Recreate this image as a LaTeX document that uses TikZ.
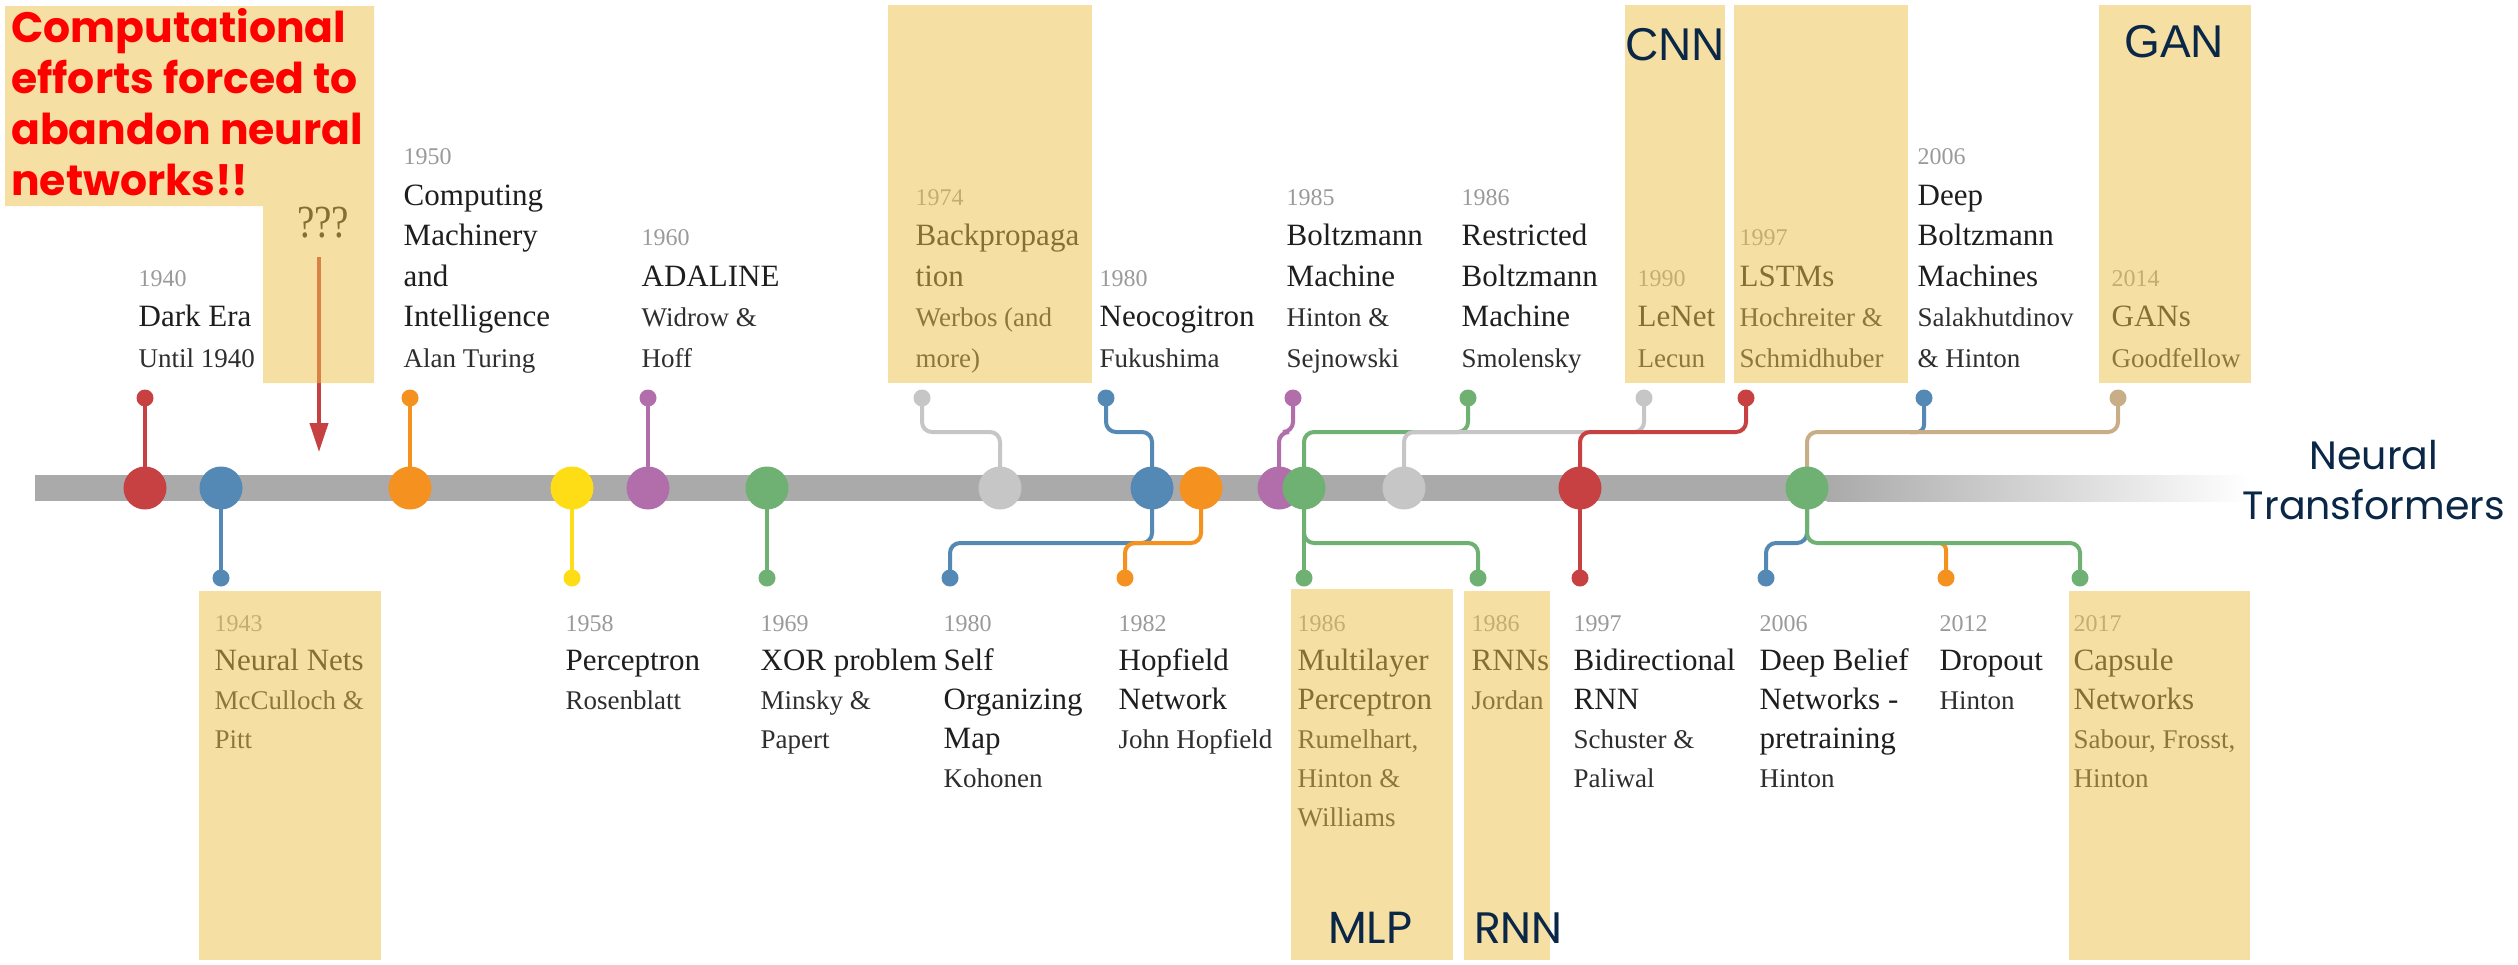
\documentclass[tikz,border=0pt]{standalone}
\usepackage{fontspec}
\usetikzlibrary{arrows.meta}
\setmainfont{Liberation Serif}
\newfontfamily\popfont{Poppins}
\newfontfamily\labelfont{Liberation Sans}

\definecolor{cRed}{HTML}{C74143}
\definecolor{cBlue}{HTML}{5589B5}
\definecolor{cOrange}{HTML}{F5921F}
\definecolor{cYellow}{HTML}{FEDC16}
\definecolor{cPurple}{HTML}{B26EAB}
\definecolor{cGreen}{HTML}{6FB173}
\definecolor{cGray}{HTML}{C6C6C6}
\definecolor{cTan}{HTML}{C8AE86}
\definecolor{barGray}{HTML}{AAAAAA}
\definecolor{hiFill}{RGB}{237,193,73}
\definecolor{navy}{HTML}{0B2747}
\definecolor{yearGray}{HTML}{9A9A9A}
\definecolor{titleInk}{HTML}{1E1E1E}
\definecolor{subInk}{HTML}{2E2E2E}
\definecolor{alarm}{HTML}{FF0000}

% text styles of an event entry (year / title / authors)
\newcommand{\yr}[1]{\fontsize{24}{#1}\selectfont\color{yearGray}}
\newcommand{\ttl}[1]{\fontsize{31}{#1}\selectfont\color{titleInk}}
\newcommand{\sbt}[1]{\fontsize{27}{#1}\selectfont\color{subInk}}
% entry above the line: aligned on its last baseline
\newcommand{\upblock}[3]{\parbox[b]{420pt}{\raggedright\leavevmode\yr{40.5}#1\par\leavevmode\ttl{40.5}#2\par\leavevmode\sbt{40.5}#3\par}}
% entry below the line: aligned on its first baseline
\newcommand{\lowblock}[3]{\parbox[t]{420pt}{\raggedright\leavevmode\yr{39}#1\par\leavevmode\ttl{39}#2\par\leavevmode\sbt{39}#3\par}}

\pgfdeclarelayer{base}
\pgfdeclarelayer{links}
\pgfsetlayers{base,links,main}

\tikzset{
  hub/.style={circle, fill=#1, minimum size=43pt, inner sep=0pt},
  pin/.style={circle, fill=#1, minimum size=17pt, inner sep=0pt},
  link/.style={draw=#1, line width=4pt, rounded corners=10pt},
  hilite/.style={fill=hiFill, fill opacity=0.5},
  evtext/.style={inner sep=0pt, anchor=base west, xshift=-6.5pt},
  tag/.style={inner sep=0pt, anchor=base west, text=navy},
}

\begin{document}
\begin{tikzpicture}[x=1pt, y=-1pt]
\useasboundingbox (0,0) rectangle (2518,964);

% routing rows and text baselines
\coordinate (upper) at (0,432);
\coordinate (lower) at (0,543);
\coordinate (topbase) at (0,367);
\coordinate (lowbase) at (0,631);

% paper and the time line
\begin{pgfonlayer}{base}
  \fill[white] (0,0) rectangle (2518,964);
  \fill[barGray] (35,475) rectangle (1828,501);
  \shade[left color=barGray, right color=white] (1827,475) rectangle (2250,501);
\end{pgfonlayer}

% hubs on the line
\node[hub=cRed]    (h40) at (145,488) {};
\node[hub=cBlue]   (h43) at (221,488) {};
\node[hub=cOrange] (h50) at (410,488) {};
\node[hub=cYellow] (h58) at (572,488) {};
\node[hub=cPurple] (h60) at (648,488) {};
\node[hub=cGreen]  (h69) at (767,488) {};
\node[hub=cGray]   (h74) at (1000,488) {};
\node[hub=cBlue]   (h80) at (1152,488) {};
\node[hub=cOrange] (h82) at (1201,488) {};
\node[hub=cPurple] (h85) at (1279,488) {};
\node[hub=cGreen]  (h86) at (1304,488) {};
\node[hub=cGray]   (h90) at (1404,488) {};
\node[hub=cRed]    (h97) at (1580,488) {};
\node[hub=cGreen]  (h06) at (1807,488) {};

% pins above
\node[pin=cRed]    (p40)  at (145,398) {};
\node[pin=cOrange] (p50)  at (410,398) {};
\node[pin=cPurple] (p60)  at (648,398) {};
\node[pin=cGray]   (p74)  at (922,398) {};
\node[pin=cBlue]   (p80a) at (1106,398) {};
\node[pin=cPurple] (p85)  at (1293,398) {};
\node[pin=cGreen]  (p86a) at (1468,398) {};
\node[pin=cGray]   (p90)  at (1644,398) {};
\node[pin=cRed]    (p97a) at (1746,398) {};
\node[pin=cBlue]   (p06a) at (1924,398) {};
\node[pin=cTan]    (p14)  at (2118,398) {};

% pins below
\node[pin=cBlue]   (p43)  at (221,578) {};
\node[pin=cYellow] (p58)  at (572,578) {};
\node[pin=cGreen]  (p69)  at (767,578) {};
\node[pin=cBlue]   (p80b) at (950,578) {};
\node[pin=cOrange] (p82)  at (1125,578) {};
\node[pin=cGreen]  (p86b) at (1304,578) {};
\node[pin=cGreen]  (p86c) at (1478,578) {};
\node[pin=cRed]    (p97b) at (1580,578) {};
\node[pin=cBlue]   (p06b) at (1766,578) {};
\node[pin=cOrange] (p12)  at (1946,578) {};
\node[pin=cGreen]  (p17)  at (2080,578) {};

% stems and elbows
\begin{pgfonlayer}{links}
  \draw[link=cRed]    (h40.center) -- (p40.center);
  \draw[link=cOrange] (h50.center) -- (p50.center);
  \draw[link=cPurple] (h60.center) -- (p60.center);
  \draw[link=cBlue]   (h43.center) -- (p43.center);
  \draw[link=cYellow] (h58.center) -- (p58.center);
  \draw[link=cGreen]  (h69.center) -- (p69.center);
  \draw[link=cGreen]  (h86.center) -- (p86b.center);
  \draw[link=cRed]    (h97.center) -- (p97b.center);
  % above the line
  \draw[link=cGray]   (p74.center) -- (p74.center |- upper) -- (h74.center |- upper) -- (h74.center);
  \draw[link=cBlue]   (p80a.center) -- (p80a.center |- upper) -- (h80.center |- upper) -- (h80.center);
  \draw[link=cPurple] (p85.center) -- (p85.center |- upper) -- (h85.center |- upper) -- (h85.center);
  \draw[link=cGreen]  (h86.center) -- (h86.center |- upper) -- (p86a.center |- upper) -- (p86a.center);
  \draw[link=cGray]   (h90.center) -- (h90.center |- upper) -- (p90.center |- upper) -- (p90.center);
  \draw[link=cRed]    (h97.center) -- (h97.center |- upper) -- (p97a.center |- upper) -- (p97a.center);
  \draw[link=cBlue, rounded corners=7pt] (p06a.center) -- (p06a.center |- upper) -- ++(-14,0);
  \draw[link=cTan]    (h06.center) -- (h06.center |- upper) -- (p14.center |- upper) -- (p14.center);
  % below the line
  \draw[link=cBlue]   (h80.center) -- (h80.center |- lower) -- (p80b.center |- lower) -- (p80b.center);
  \draw[link=cOrange] (h82.center) -- (h82.center |- lower) -- (p82.center |- lower) -- (p82.center);
  \draw[link=cGreen]  (h86.center) -- (h86.center |- lower) -- (p86c.center |- lower) -- (p86c.center);
  \draw[link=cBlue]   (h06.center) -- (h06.center |- lower) -- (p06b.center |- lower) -- (p06b.center);
  \draw[link=cOrange, rounded corners=7pt] (p12.center) -- (p12.center |- lower) -- ++(-14,0);
  \draw[link=cGreen]  (h06.center) -- (h06.center |- lower) -- (p17.center |- lower) -- (p17.center);
\end{pgfonlayer}

% entries above the line
\node[evtext] (t40) at (p40 |- topbase)  {\upblock{1940}{Dark Era}{Until 1940}};
\node[evtext] (t50) at (p50 |- topbase)  {\upblock{1950}{Computing\\Machinery\\and\\Intelligence}{Alan Turing}};
\node[evtext] (t60) at (p60 |- topbase)  {\upblock{1960}{ADALINE}{Widrow \&\\Hoff}};
\node[evtext] (t74) at (p74 |- topbase)  {\upblock{1974}{Backpropaga\\tion}{Werbos (and\\more)}};
\node[evtext] (t80a) at (p80a |- topbase) {\upblock{1980}{Neocogitron}{Fukushima}};
\node[evtext] (t85) at (p85 |- topbase)  {\upblock{1985}{Boltzmann\\Machine}{Hinton \&\\Sejnowski}};
\node[evtext] (t86a) at (p86a |- topbase) {\upblock{1986}{Restricted\\Boltzmann\\Machine}{Smolensky}};
\node[evtext] (t90) at (p90 |- topbase)  {\upblock{1990}{LeNet}{Lecun}};
\node[evtext] (t97a) at (p97a |- topbase) {\upblock{1997}{LSTMs}{Hochreiter \&\\Schmidhuber}};
\node[evtext] (t06a) at (p06a |- topbase) {\upblock{2006}{Deep\\Boltzmann\\Machines}{Salakhutdinov\\\& Hinton}};
\node[evtext] (t14) at (p14 |- topbase)  {\upblock{2014}{GANs}{Goodfellow}};

% entries below the line
\node[evtext] (t43) at (p43 |- lowbase)  {\lowblock{1943}{Neural Nets}{McCulloch \&\\Pitt}};
\node[evtext] (t58) at (p58 |- lowbase)  {\lowblock{1958}{Perceptron}{Rosenblatt}};
\node[evtext] (t69) at (p69 |- lowbase)  {\lowblock{1969}{XOR problem}{Minsky \&\\Papert}};
\node[evtext] (t80b) at (p80b |- lowbase) {\lowblock{1980}{Self\\Organizing\\Map}{Kohonen}};
\node[evtext] (t82) at (p82 |- lowbase)  {\lowblock{1982}{Hopfield\\Network}{John Hopfield}};
\node[evtext] (t86b) at (p86b |- lowbase) {\lowblock{1986}{Multilayer\\Perceptron}{Rumelhart,\\Hinton \&\\Williams}};
\node[evtext] (t86c) at (p86c |- lowbase) {\lowblock{1986}{RNNs}{Jordan}};
\node[evtext] (t97b) at (p97b |- lowbase) {\lowblock{1997}{Bidirectional\\RNN}{Schuster \&\\Paliwal}};
\node[evtext] (t06b) at (p06b |- lowbase) {\lowblock{2006}{Deep Belief\\Networks -\\pretraining}{Hinton}};
\node[evtext] (t12) at (p12 |- lowbase)  {\lowblock{2012}{Dropout}{Hinton}};
\node[evtext] (t17) at (p17 |- lowbase)  {\lowblock{2017}{Capsule\\Networks}{Sabour, Frosst,\\Hinton}};

% the unknown years and the arrow pointing at them
\node[inner sep=0pt, anchor=base west, text=titleInk] (qq) at (297,237)
  {\fontsize{46}{46}\selectfont\scalebox{0.85}[1]{???}};
\coordinate (qtop) at (319,257);
\coordinate (qtip) at (319,452);
\draw[cRed, line width=4pt, -{Triangle[length=29pt, width=18pt]}] (qtop) -- (qtip);

% highlight veils
\fill[hilite] (5,6) -- (374,6) -- (374,383) -- (263,383) -- (263,206) -- (5,206) -- cycle;
\fill[hilite] (888,5) rectangle (1092,383);
\fill[hilite] (1625,5) rectangle (1725,383);
\fill[hilite] (1734,5) rectangle (1908,383);
\fill[hilite] (2099,5) rectangle (2251,383);
\fill[hilite] (199,591) rectangle (381,960);
\fill[hilite] (1291,589) rectangle (1453,960);
\fill[hilite] (1464,591) rectangle (1550,960);
\fill[hilite] (2069,591) rectangle (2250,960);

% headline and family labels
\node[inner sep=0pt, anchor=base west] (alert) at (11,42)
  {\parbox[t]{420pt}{\raggedright\leavevmode\popfont\bfseries\fontsize{42.5}{51}\selectfont\color{alarm}Computational\\efforts forced to\\abandon neural\\networks!!}};
\node[tag] (cnn) at (1625,60) {\labelfont\fontsize{46}{46}\selectfont CNN};
\node[tag] (gan) at (2124,57) {\labelfont\fontsize{46}{46}\selectfont GAN};
\node[tag] (mlp) at (1328,943) {\popfont\fontsize{45}{45}\selectfont MLP};
\node[tag] (rnn) at (1474,943) {\popfont\fontsize{44}{44}\selectfont RNN};
\node[inner sep=0pt, anchor=base] (nt) at (2374,469)
  {\parbox[t]{320pt}{\centering\leavevmode\popfont\fontsize{39.5}{50}\selectfont\color{navy}Neural\\Transformers}};
\end{tikzpicture}
\end{document}
